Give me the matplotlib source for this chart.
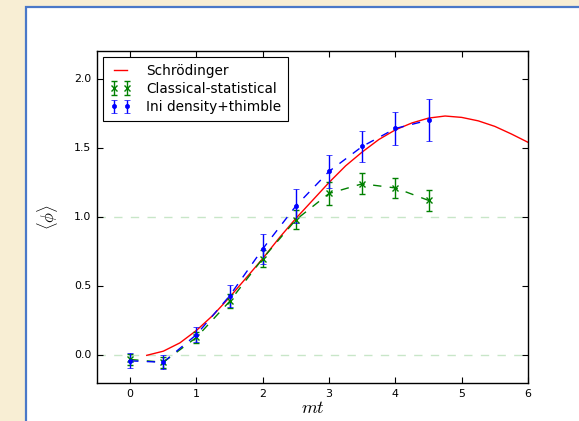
import matplotlib
matplotlib.use("Agg")
import matplotlib.pyplot as plt
from matplotlib.patches import Rectangle

# ---- data ----
t_pts = [0.0, 0.5, 1.0, 1.5, 2.0, 2.5, 3.0, 3.5, 4.0, 4.5]

classical_y = [-0.03, -0.05, 0.13, 0.39, 0.70, 0.98, 1.17, 1.24, 1.21, 1.12]
classical_err = [0.04, 0.04, 0.04, 0.05, 0.06, 0.07, 0.08, 0.075, 0.075, 0.077]

thimble_y = [-0.04, -0.05, 0.15, 0.43, 0.77, 1.08, 1.33, 1.51, 1.64, 1.70]
thimble_err = [0.055, 0.05, 0.055, 0.08, 0.11, 0.12, 0.12, 0.11, 0.12, 0.15]

schr_t = [0.25, 0.5, 0.75, 1.0, 1.25, 1.5, 1.75, 2.0, 2.25, 2.5, 2.75, 3.0,
          3.25, 3.5, 3.75, 4.0, 4.25, 4.5, 4.75, 5.0, 5.25, 5.5, 5.75, 6.0]
schr_y = [0.0, 0.03, 0.09, 0.18, 0.29, 0.42, 0.56, 0.70, 0.85, 0.99, 1.12, 1.25,
          1.37, 1.47, 1.56, 1.63, 1.68, 1.715, 1.73, 1.72, 1.695, 1.655, 1.60, 1.54]

xticks = [0, 1, 2, 3, 4, 5, 6]
yticks = [0.0, 0.5, 1.0, 1.5, 2.0]

plt.style.use('classic')
plt.rcParams['font.size'] = 7.9
plt.rcParams['mathtext.fontset'] = 'cm'

W, H = 579, 421
fig = plt.figure(figsize=(W / 100, H / 100), dpi=100)
fig.patch.set_facecolor('#F8EED4')

# white panel with blue border
panel = Rectangle((26 / W, -0.05), 1.1, 1 - 7 / H + 0.05, transform=fig.transFigure,
                  facecolor='white', edgecolor='#4A78C8', linewidth=1.6, zorder=-10)
fig.patches.append(panel)

ax = fig.add_axes([97 / W, 1 - 383 / H, (528 - 97) / W, (383 - 51) / H])
ax.set_facecolor('white')

ax.axhline(0.0, color='#C8E6C8', ls='--', lw=1, zorder=0)
ax.axhline(1.0, color='#C8E6C8', ls='--', lw=1, zorder=0)

ax.plot(schr_t, schr_y, color='red', lw=1, label='Schrödinger')
ax.plot(t_pts, classical_y, ls='--', color='green', lw=1)
ax.errorbar(t_pts, classical_y, yerr=classical_err, fmt='x', color='green',
            ms=5, mew=1, elinewidth=1, capsize=2.4, label='Classical-statistical')
ax.plot(t_pts, thimble_y, ls='--', color='blue', lw=1)
ax.errorbar(t_pts, thimble_y, yerr=thimble_err, fmt='.', color='blue',
            ms=6, elinewidth=1, capsize=2.4, label='Ini density+thimble')

ax.set_xlim(-0.5, 6)
ax.set_ylim(-0.2, 2.2)
ax.set_xticks(xticks)
ax.set_yticks(yticks)
ax.set_xticklabels([str(v) for v in xticks])
ax.set_yticklabels(['%.1f' % v for v in yticks])
ax.tick_params(length=4, width=0.8, pad=4)

ax.set_xlabel(r'$mt$', fontsize=13, labelpad=0)
ax.set_ylabel(r'$\langle\phi\rangle$', fontsize=12, labelpad=10)

leg = ax.legend(loc='upper left', fontsize=9.8, numpoints=2, borderaxespad=0.45,
                handlelength=1.55, labelspacing=0.3, handletextpad=1.1, borderpad=0.5)
leg.get_frame().set_linewidth(0.8)

fig.savefig('out.png', dpi=100, facecolor=fig.get_facecolor())
